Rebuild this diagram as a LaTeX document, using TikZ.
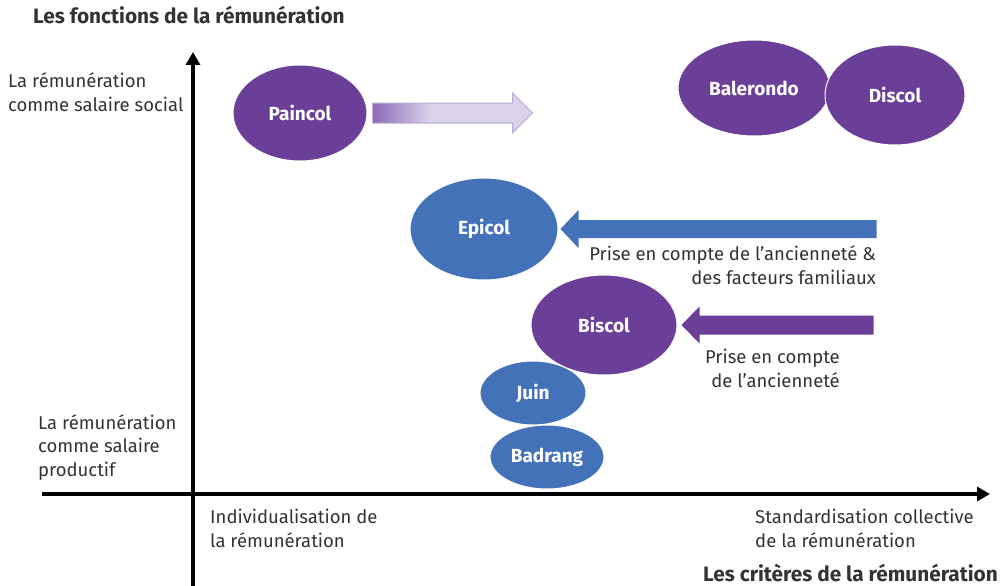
\documentclass[tikz,border=0pt]{standalone}
\usepackage{fontspec}
\setmainfont{Fira Sans}
\usetikzlibrary{arrows.meta,shapes.geometric,positioning}

\definecolor{purp}{RGB}{107,63,152}
\definecolor{purpsoft}{RGB}{140,105,182}
\definecolor{blu}{RGB}{68,114,184}
\definecolor{lav}{RGB}{218,210,234}
\definecolor{lavline}{RGB}{186,172,214}
\definecolor{txt}{RGB}{51,51,51}

\pgfdeclarehorizontalshading{paincolshade}{100bp}{color(0bp)=(purpsoft); color(25bp)=(purpsoft); color(43bp)=(lav); color(100bp)=(lav)}

\tikzset{
  blob/.style={ellipse, draw=white, line width=1pt, text=white, inner sep=0pt,
    font=\bfseries\fontsize{19}{22}\selectfont},
  purpblob/.style={blob, fill=purp},
  blueblob/.style={blob, fill=blu},
  lbl/.style={text=txt, inner sep=0pt, font=\fontsize{18.5}{23.3}\selectfont},
  axistitle/.style={text=txt, inner sep=0pt, font=\bfseries\fontsize{20.8}{24}\selectfont},
  axisline/.style={line width=3.2pt, -{Triangle[length=13pt,width=14pt]}}
}

\begin{document}
\begin{tikzpicture}[x=1pt,y=-1pt]
  \useasboundingbox (0,0) rectangle (1004,586);

  % axes
  \coordinate (ybottom) at (193,586);
  \coordinate (ytop) at (193,52);
  \coordinate (xleftend) at (42,494);
  \coordinate (xrightend) at (990,494);
  \draw[axisline] (ybottom) -- (ytop);
  \draw[axisline] (xleftend) -- (xrightend);

  % axis titles
  \node[axistitle, anchor=base west] (ytitle) at (33,24) {Les fonctions de la rémunération};
  \node[axistitle, anchor=base east] (xtitle) at (998,581) {Les critères de la rémunération};

  % axis labels (base = last line)
  \node[lbl, align=left, anchor=base west] (ysocial) at (8,111) {La rémunération\\comme salaire social};
  \node[lbl, align=left, anchor=base west] (yprod) at (38,476) {La rémunération\\comme salaire\\productif};
  \node[lbl, align=left, anchor=base west] (xindiv) at (210,547) {Individualisation de\\la rémunération};
  \node[lbl, align=left, anchor=base west] (xstand) at (755,547) {Standardisation collective\\de la rémunération};

  % conventions
  \node[purpblob, minimum width=134pt, minimum height=96pt] (paincol) at (300,113) {Paincol};
  \node[purpblob, minimum width=152pt, minimum height=96pt] (balerondo) at (754,88) {Balerondo};
  \node[purpblob, minimum width=140pt, minimum height=100pt] (discol) at (895,95) {Discol};
  \node[blueblob, minimum width=148pt, minimum height=102pt] (epicol) at (484,229) {Epicol};
  \node[purpblob, minimum width=146pt, minimum height=100pt] (biscol) at (604,325) {Biscol};
  \node[blueblob, minimum width=106pt, minimum height=64pt] (juin) at (533,393) {Juin};
  \node[blueblob, minimum width=114pt, minimum height=64pt] (badrang) at (547,457) {Badrang};

  % block arrows
  \shade[shading=paincolshade, draw=lavline, line width=1pt] ([xshift=5pt]paincol.east) -- ++(0,-10) -- ++(140,0) -- ++(0,-10) -- ++(20,20) -- ++(-20,20) -- ++(0,-10) -- ++(-140,0) -- cycle;
  \fill[blu] ([xshift=2pt]epicol.east) -- ++(18,-19) -- ++(0,10) -- ++(298,0) -- ++(0,18) -- ++(-298,0) -- ++(0,10) -- cycle;
  \fill[purp] ([xshift=4pt]biscol.east) -- ++(18,-18.5) -- ++(0,9) -- ++(174,0) -- ++(0,19) -- ++(-174,0) -- ++(0,9) -- cycle;

  % arrow notes
  \node[lbl, align=right, anchor=base east] (bluenote) at (876,284) {Prise en compte de l’ancienneté \&\\des facteurs familiaux};
  \node[lbl, align=right, anchor=base east] (purpnote) at (840,387) {Prise en compte\\de l’ancienneté};
\end{tikzpicture}
\end{document}
